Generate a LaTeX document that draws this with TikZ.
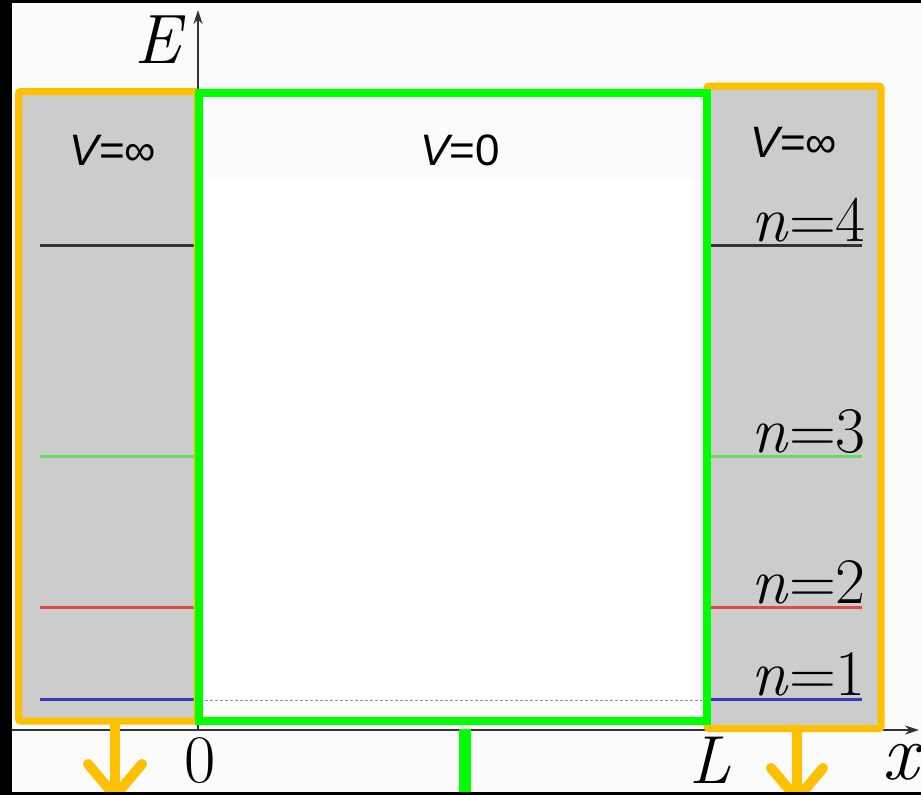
\documentclass[tikz,border=0pt]{standalone}
\usepackage{fontspec}
\usepackage{xcolor}
\usepackage{tikz}
\usetikzlibrary{arrows.meta}
\newfontfamily\potfont{Liberation Sans}
\definecolor{wall}{HTML}{FFC000}
\definecolor{well}{HTML}{00FF00}
\definecolor{barrier}{HTML}{CCCCCC}
\definecolor{paper}{HTML}{FBFBFB}
\definecolor{lvlfour}{HTML}{333333}
\definecolor{lvlthree}{HTML}{66D966}
\definecolor{lvltwo}{HTML}{DD4848}
\definecolor{lvlone}{HTML}{3A3AB8}
\tikzset{
  potlbl/.style={font=\potfont\fontsize{44}{48}\selectfont, inner sep=0pt},
  axlbl/.style={font=\fontsize{68}{70}\selectfont, inner sep=0pt, anchor=base},
  lvllbl/.style={font=\fontsize{65}{68}\selectfont, inner sep=0pt, anchor=base east},
  lvl/.style={line width=3pt},
  axis/.style={-{Stealth[length=14pt,width=9pt]}, line width=2.2pt, black!80},
  wallbox/.style={draw=wall, line width=7pt, rounded corners=2pt},
  wellbox/.style={draw=well, line width=8pt},
  drop/.style={draw=wall, line width=10pt, line cap=round, line join=round},
}

\begin{document}
\begin{tikzpicture}[x=1pt, y=-1pt]
\useasboundingbox (0,0) rectangle (921,795);
\clip (0,0) rectangle (921,795);
\fill[paper] (0,0) rectangle (921,795);

% axes
\coordinate (origin) at (198,730);
\coordinate (etip) at (198,10);
\coordinate (xstart) at (12,730);
\coordinate (xtip) at (919,730);
\draw[axis] (origin) -- (etip);
\draw[axis] (xstart) -- (xtip);

% regions
\fill[barrier] (17,90) rectangle (197,720);
\fill[barrier] (706,86) rectangle (882,725);
\fill[white] (203,178) rectangle (703,717);

% energy levels
\foreach \y/\c/\k in {245/lvlfour/4, 456/lvlthree/3, 607/lvltwo/2, 699/lvlone/1} {
  \draw[lvl, \c] (40,\y) -- (197,\y);
  \draw[lvl, \c] (711,\y) -- (862,\y);
  \node[lvllbl] (n\k) at (866,\y-4) {\textit{n}=\k};
}
\draw[lvlone!60, line width=1pt, densely dashed] (205,700) -- (702,700);

% boxes
\draw[wallbox] (18.5,91.5) rectangle (197,721);
\draw[wallbox] (707,86) rectangle (881,728.5);
\draw[wellbox] (199,92.5) rectangle (707,721);

% drops and stub
\coordinate (ldrop) at (115,724);
\coordinate (lend) at (115,798);
\draw[drop] (ldrop) -- (lend);
\draw[drop] (88,764) -- (115,796) -- (142,764);
\coordinate (rdrop) at (797,731);
\coordinate (rend) at (797,800);
\draw[drop] (rdrop) -- (rend);
\draw[drop] (771,768) -- (797,799) -- (823,768);
\coordinate (stubtop) at (465,729);
\coordinate (stubend) at (465,800);
\draw[well, line width=12pt] (stubtop) -- (stubend);

% labels
\node[potlbl] (vleft) at (113,150) {{\itshape V}=∞};
\node[potlbl] (vmid) at (460,150) {{\itshape V}=0};
\node[potlbl] (vright) at (794,142) {{\itshape V}=∞};
\node[axlbl, font=\fontsize{70}{72}\selectfont] (elbl) at (160,63) {\textit{E}};
\node[axlbl] (zero) at (200,782) {0};
\node[axlbl] (llbl) at (710,783) {\textit{L}};
\node[axlbl, font=\fontsize{80}{82}\selectfont] (xlbl) at (903,779) {\textit{x}};

% frame
\fill[black] (0,0) rectangle (12,795);
\fill[black] (0,0) rectangle (921,3);
\fill[black] (0,792) rectangle (921,795);
\end{tikzpicture}
\end{document}
